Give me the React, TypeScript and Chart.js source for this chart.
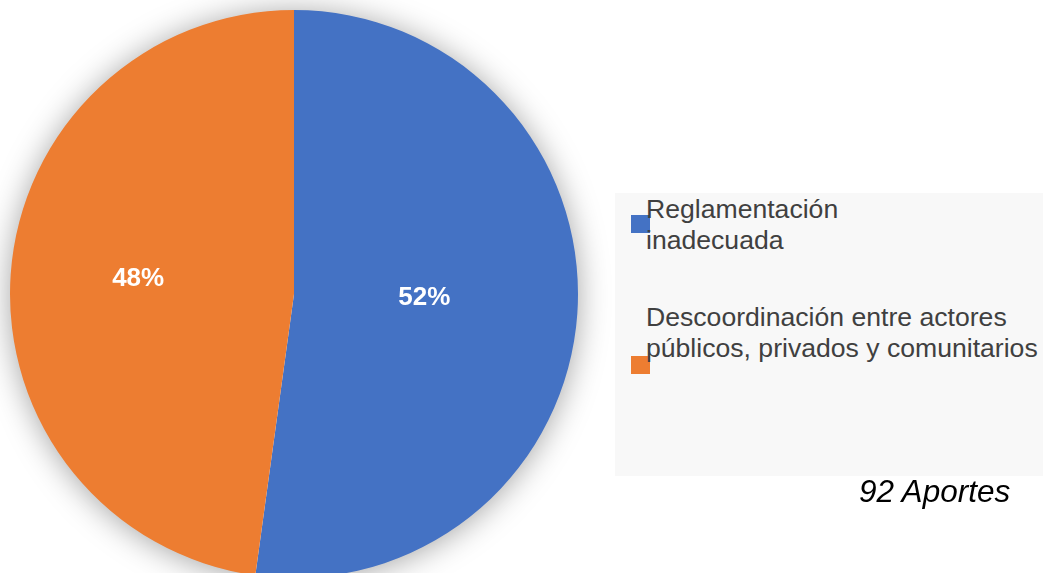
import React, { useEffect, useRef } from "react";
import { Chart, registerables } from "chart.js";

Chart.register(...registerables);

const categories = [
  "Reglamentación inadecuada",
  "Descoordinación entre actores públicos, privados y comunitarios",
];
const legendLines = [
  ["Reglamentación", "inadecuada"],
  ["Descoordinación entre actores", "públicos, privados y comunitarios"],
];
const counts = [48, 44];
const colors = ["#4472C4", "#ED7D31"];
const labelRadialFraction = [0.46, 0.55];
const totalNote = "92 Aportes";

const shadowPlugin = {
  id: "pieShadow",
  beforeDatasetsDraw(chart: any) {
    const meta = chart.getDatasetMeta(0);
    const arc = meta.data[0];
    if (!arc) return;
    const ctx = chart.ctx;
    ctx.save();
    ctx.shadowColor = "rgba(0,0,0,0.38)";
    ctx.shadowBlur = 32;
    ctx.shadowOffsetX = 0;
    ctx.shadowOffsetY = 2;
    ctx.beginPath();
    ctx.arc(arc.x, arc.y, arc.outerRadius - 1, 0, Math.PI * 2);
    ctx.fillStyle = "#ffffff";
    ctx.fill();
    ctx.restore();
  },
};

const pctLabelPlugin = {
  id: "pctLabels",
  afterDatasetsDraw(chart: any) {
    const meta = chart.getDatasetMeta(0);
    const data = chart.data.datasets[0].data as number[];
    const total = data.reduce((a, b) => a + b, 0);
    const ctx = chart.ctx;
    ctx.save();
    ctx.fillStyle = "#ffffff";
    ctx.font = "bold 26px 'Liberation Sans', Arial, sans-serif";
    ctx.textAlign = "center";
    ctx.textBaseline = "middle";
    meta.data.forEach((arc: any, i: number) => {
      const mid = (arc.startAngle + arc.endAngle) / 2;
      const r = arc.outerRadius * labelRadialFraction[i];
      const x = arc.x + Math.cos(mid) * r;
      const y = arc.y + Math.sin(mid) * r - 5;
      const pct = Math.round((data[i] / total) * 100);
      ctx.fillText(pct + "%", x, y);
    });
    ctx.restore();
  },
};

export default function App() {
  const ref = useRef<HTMLCanvasElement>(null);

  useEffect(() => {
    document.body.style.margin = "0";
    document.body.style.overflow = "hidden";
    const chart = new Chart(ref.current as HTMLCanvasElement, {
      type: "pie",
      data: {
        labels: categories,
        datasets: [
          {
            data: counts,
            backgroundColor: colors,
            borderWidth: 0,
          },
        ],
      },
      options: {
        responsive: false,
        animation: false,
        layout: { padding: { left: 10, top: 10, right: 465, bottom: 12 } },
        plugins: {
          legend: { display: false },
          tooltip: { enabled: false },
        },
      },
      plugins: [shadowPlugin, pctLabelPlugin],
    });
    return () => chart.destroy();
  }, []);

  const font = "'Liberation Sans', Arial, sans-serif";
  const itemTops = [194, 302];
  const squareTops = [215, 356];

  return (
    <div
      style={{
        position: "relative",
        width: 1043,
        height: 573,
        overflow: "hidden",
        background: "#ffffff",
      }}
    >
      <canvas
        ref={ref}
        width={1043}
        height={590}
        style={{ position: "absolute", left: 0, top: 0, width: 1043, height: 590 }}
      />
      <div
        style={{
          position: "absolute",
          left: 615,
          top: 193,
          width: 428,
          height: 283,
          background: "#f8f8f8",
        }}
      />
      {legendLines.map((lines, i) => (
        <React.Fragment key={i}>
          <div
            style={{
              position: "absolute",
              left: 631,
              top: squareTops[i],
              width: 19,
              height: 18,
              background: colors[i],
            }}
          />
          <div
            style={{
              position: "absolute",
              left: 646,
              top: itemTops[i],
              fontFamily: font,
              fontSize: 26.6,
              lineHeight: "31px",
              color: "#404040",
              whiteSpace: "nowrap",
            }}
          >
            {lines.map((l, j) => (
              <div key={j}>{l}</div>
            ))}
          </div>
        </React.Fragment>
      ))}
      <div
        style={{
          position: "absolute",
          left: 859,
          top: 475.5,
          fontFamily: font,
          fontStyle: "italic",
          fontSize: 31.5,
          lineHeight: "31px",
          color: "#000000",
          whiteSpace: "nowrap",
        }}
      >
        {totalNote}
      </div>
    </div>
  );
}
